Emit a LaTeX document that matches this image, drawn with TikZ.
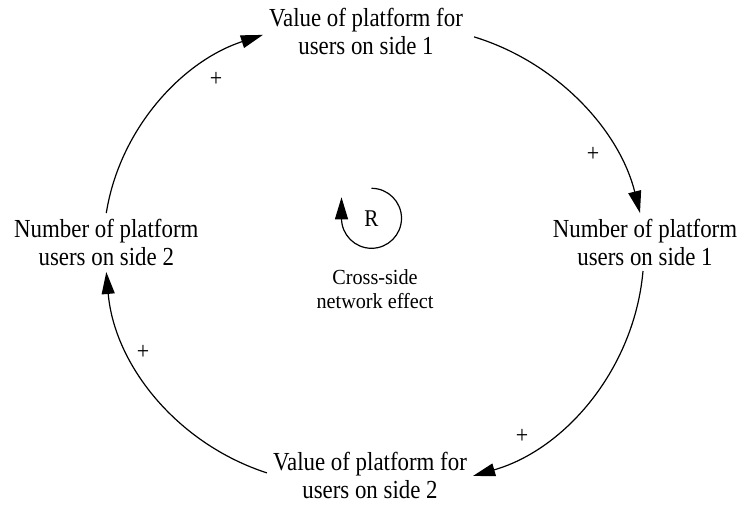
\documentclass[tikz,border=0pt]{standalone}
\usepackage{fontspec}
\setmainfont{Liberation Serif}[FakeStretch=0.88]
\newfontfamily\smallfont{Liberation Serif}[FakeStretch=0.94]
\usetikzlibrary{arrows.meta}
\tikzset{
  var/.style={align=center, inner sep=6pt, font=\fontsize{26}{28}\selectfont},
  link/.style={line width=1.2pt, -{Triangle[length=22pt,width=13pt]}},
  pol/.style={inner sep=0pt, font=\fontsize{25}{26}\selectfont},
  looptxt/.style={align=center, inner sep=0pt, font=\smallfont\fontsize{21.5}{24}\selectfont},
}
\begin{document}
\begin{tikzpicture}[x=1pt,y=1pt]
\useasboundingbox (0,0) rectangle (742,506);
% variables
\node[var] (top) at (366,474.1) {Value of platform for\\users on side 1};
\node[var] (right) at (645,263.5) {Number of platform\\users on side 1};
\node[var] (left) at (106.3,263.5) {Number of platform\\users on side 2};
\node[var] (bottom) at (370,30.1) {Value of platform for\\users on side 2};
% links
\draw[link] (left.north) .. controls +(81:85) and +(198:85) .. ([yshift=-3pt]top.west);
\draw[link] ([xshift=5pt,yshift=-5pt]top.east) .. controls +(-17:86) and +(104:86) .. ([xshift=-5pt]right.north);
\draw[link] ([xshift=-2pt,yshift=1pt]right.south) .. controls +(-95:97) and +(16:97) .. (bottom.east);
\draw[link] ([yshift=3pt]bottom.west) .. controls +(162:94) and +(-85:94) .. (left.south);
% polarities
\node[pol] (p1) at (216,427) {+};
\node[pol] (p2) at (593,352) {+};
\node[pol] (p3) at (522,70) {+};
\node[pol] (p4) at (143,154) {+};
% loop symbol
\node[inner sep=0pt, font=\fontsize{24}{26}\selectfont] (R) at (371.5,287.7) {R};
\draw[line width=1.2pt] ([yshift=30pt]R.center) arc[start angle=90, end angle=-180, radius=30pt] coordinate (lend);
\draw[link] (lend) -- ([yshift=21pt]lend);
\node[looptxt] (lname) at (375,217.3) {Cross-side\\network effect};
\end{tikzpicture}
\end{document}
